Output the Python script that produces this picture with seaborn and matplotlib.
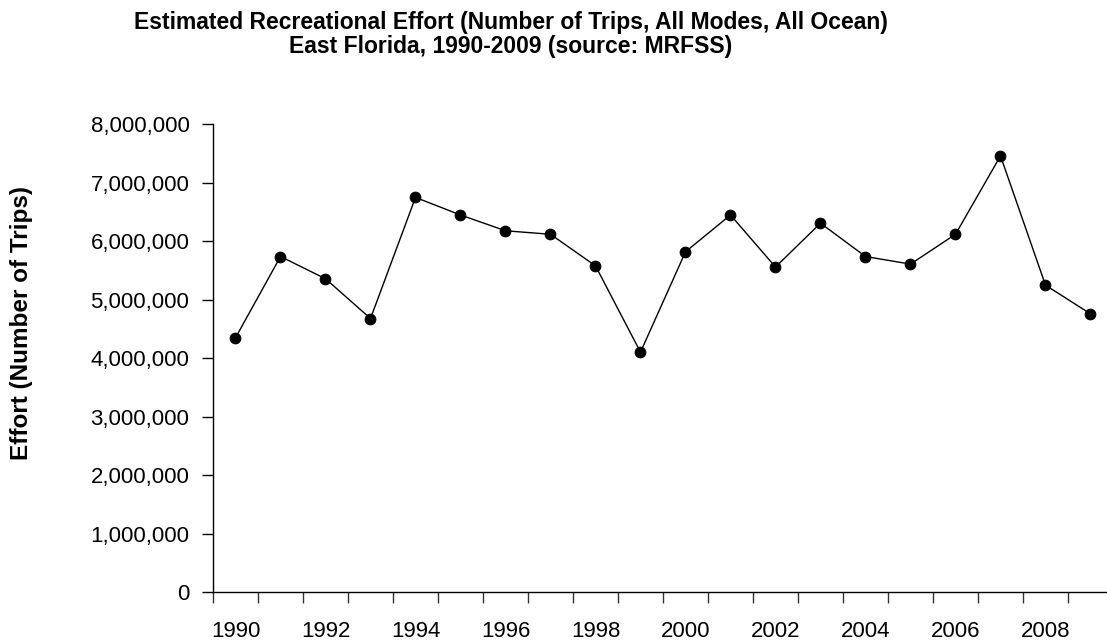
import matplotlib
matplotlib.use("Agg")
import matplotlib.pyplot as plt
import matplotlib.ticker as mticker
import seaborn as sns
import pandas as pd

years = list(range(1990, 2010))
effort = [4350000, 5740000, 5360000, 4680000, 6750000, 6450000, 6180000, 6120000,
          5580000, 4105000, 5820000, 6450000, 5560000, 6310000, 5740000, 5610000,
          6120000, 7460000, 5250000, 4760000]
tick_years = list(range(1990, 2010, 2))
y_ticks = list(range(0, 8000001, 1000000))

title_line1 = "Estimated Recreational Effort (Number of Trips, All Modes, All Ocean)"
title_line2 = "East Florida, 1990-2009 (source: MRFSS)"
y_label = "Effort (Number of Trips)"

sns.set_style("ticks")
plt.rcParams["font.family"] = ["Liberation Sans", "DejaVu Sans"]
plt.rcParams["text.color"] = "black"
plt.rcParams["axes.labelcolor"] = "black"

W, H = 1107, 642
fig = plt.figure(figsize=(W / 100, H / 100), dpi=100)
ax = fig.add_axes([213 / W, (H - 592.3) / H, 900 / W, (592.3 - 124.3) / H])

df = pd.DataFrame({"year": years, "effort": effort})
sns.lineplot(data=df, x="year", y="effort", ax=ax, color="black", linewidth=1.0,
             marker="o", markersize=7.7, markeredgecolor="black", markerfacecolor="black")

ax.set_xlim(1989.5, 2009.5)
ax.set_ylim(0, 8000000)
ax.set_xticks(tick_years)
ax.set_xticklabels([str(y) for y in tick_years])
ax.set_xticks([1989.5 + i for i in range(21)], minor=True)
ax.tick_params(axis="x", which="major", length=0, pad=20.5, labelsize=16, colors="black")
ax.tick_params(axis="x", which="minor", length=8, width=1.0, direction="out", color="#333333")
ax.set_yticks(y_ticks)
ax.yaxis.set_major_formatter(mticker.FuncFormatter(lambda v, p: f"{int(v):,}"))
ax.tick_params(axis="y", length=8, width=1.0, direction="out", pad=9, labelsize=16, colors="black")

for s in ["top", "right"]:
    ax.spines[s].set_visible(False)
for s in ["left", "bottom"]:
    ax.spines[s].set_color("black")
    ax.spines[s].set_linewidth(1.0)
ax.set_xlabel("")
ax.set_ylabel("")

fig.text(511 / W, 1 - 29.5 / H, title_line1, ha="center", va="baseline",
         fontsize=16.5, fontweight="bold", color="black")
fig.text(511 / W, 1 - 53 / H, title_line2, ha="center", va="baseline",
         fontsize=16.5, fontweight="bold", color="black")
fig.text(21.5 / W, 1 - 323 / H, y_label, rotation=90, ha="center", va="center",
         fontsize=17.5, fontweight="bold", color="black")

fig.savefig("out.png", dpi=100)
